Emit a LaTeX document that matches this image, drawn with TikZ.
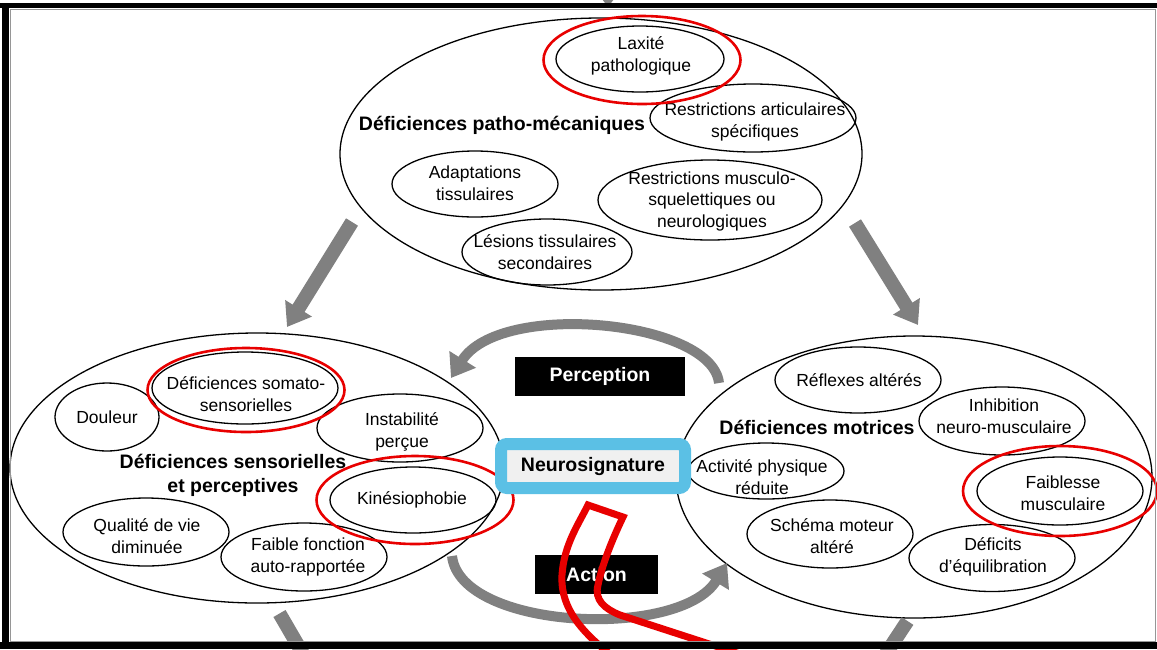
\documentclass[tikz,border=0pt]{standalone}
\usepackage{fontspec}
\setmainfont{Liberation Sans}
\usetikzlibrary{shapes.geometric,arrows.meta}
\definecolor{redc}{RGB}{232,0,0}
\definecolor{arrowgray}{RGB}{128,128,128}
\definecolor{skyb}{RGB}{91,192,229}
\definecolor{boxfill}{RGB}{240,240,240}
\definecolor{framegray}{RGB}{150,150,150}
\newcommand{\subell}[6]{%
  \node[subell, minimum width=#3pt, minimum height=#4pt] (#1) at (#2) {};
  \node[subtxt] (#1t) at (#5) {#6};}
\begin{document}
\begin{tikzpicture}[x=1pt,y=-1pt,
  subell/.style={draw, ellipse, line width=1.3pt, inner sep=0pt},
  subtxt/.style={align=center, inner sep=0pt, font=\fontsize{17.5}{21.5}\selectfont},
  bigell/.style={draw, ellipse, line width=1.3pt, inner sep=0pt},
  hdr/.style={align=center, inner sep=0pt, font=\fontsize{19.5}{24}\selectfont\bfseries},
  redring/.style={draw=redc, ellipse, line width=2.6pt, inner sep=0pt},
  grayarrow/.style={draw=arrowgray, line width=14pt, -{Triangle[width=30pt,length=22pt]}},
  curvarrow/.style={draw=arrowgray, line width=10pt, -{Triangle[width=30pt,length=22pt]}},
  blackbox/.style={fill=black, text=white, inner sep=0pt, font=\fontsize{19.5}{24}\selectfont\bfseries},
  neurobox/.style={draw=skyb, line width=12pt, fill=boxfill, rounded corners=6pt, inner sep=0pt,
    minimum width=184pt, minimum height=44pt, font=\fontsize{19.5}{24}\selectfont\bfseries},
  redstroke/.style={draw=redc, line width=7pt, line join=miter}
]
\useasboundingbox (0,0) rectangle (1157,649);
\clip (0,0) rectangle (1157,649);
\fill[white] (0,0) rectangle (1157,649);

% ---------- big ellipses ----------
\node[bigell, minimum width=522pt, minimum height=272pt] (top) at (601,154) {};
\node[bigell, minimum width=494pt, minimum height=270pt] (left) at (257,468) {};
\node[bigell, minimum width=476pt, minimum height=282pt] (right) at (914,477) {};

% ---------- top group ----------
\node[hdr] (hdrtop) at (502,125) {Déficiences patho-mécaniques};
\subell{lax}{640,59}{168}{66}{641,56}{Laxité\\pathologique}
\subell{restart}{753,118}{206}{68}{755,122}{Restrictions articulaires\\spécifiques}
\subell{adapt}{475,184}{166}{66}{475,183}{Adaptations\\tissulaires}
\subell{restmus}{710,200}{224}{80}{712,201}{Restrictions musculo-\\squelettiques ou\\neurologiques}
\subell{lesions}{547,252}{170}{66}{545,252}{Lésions tissulaires\\secondaires}
\node[redring, minimum width=197pt, minimum height=88pt] (laxred) at (642,60) {};

% ---------- left group ----------
\node[hdr] (hdrleft) at (233,475) {Déficiences sensorielles\\et perceptives};
\subell{douleur}{107,417}{104}{68}{107,417}{Douleur}
\subell{somato}{245,388}{186}{72}{246,394}{Déficiences somato-\\sensorielles}
\subell{instab}{400,428}{166}{68}{402,432}{Instabilité\\perçue}
\subell{kines}{413,500}{166}{66}{412,500}{Kinésiophobie}
\subell{qualite}{146,532}{166}{68}{147,536}{Qualité de vie\\diminuée}
\subell{faible}{304,557}{166}{68}{308,557}{Faible fonction\\auto-rapportée}
\node[redring, minimum width=197pt, minimum height=84pt] (somatored) at (246,390) {};
\node[redring, minimum width=197pt, minimum height=88pt] (kinesred) at (415,500) {};

% ---------- right group ----------
\node[hdr] (hdrright) at (817,427) {Déficiences motrices};
\subell{reflexes}{858,380}{166}{66}{859,380}{Réflexes altérés}
\subell{inhib}{1002,421}{166}{68}{1004,416}{Inhibition\\neuro-musculaire}
\subell{activite}{766,471}{156}{56}{762,477}{Activité physique\\réduite}
\subell{faiblesse}{1060,491}{166}{68}{1063,493}{Faiblesse\\musculaire}
\subell{schema}{830,534}{166}{68}{832,536}{Schéma moteur\\altéré}
\subell{deficits}{992,558}{166}{67}{993,557}{Déficits\\d’équilibration}
\node[redring, minimum width=194pt, minimum height=90pt] (faiblesred) at (1060,491) {};

% ---------- straight arrows ----------
\coordinate (tlS) at (352,222);
\coordinate (tlE) at (287,327);
\coordinate (trS) at (855,223);
\coordinate (trE) at (918,325);
\coordinate (blS) at (279.5,613.5);
\coordinate (blE) at (310,666);
\coordinate (brS) at (907.5,621);
\coordinate (brE) at (874.5,671);
\draw[grayarrow] (tlS) -- (tlE);
\draw[grayarrow] (trS) -- (trE);
\draw[draw=arrowgray, line width=14pt] (blS) -- (blE);
\draw[draw=arrowgray, line width=14pt] (brS) -- (brE);
\coordinate (topA) at (602,-1);
\coordinate (topB) at (614,-1);
\coordinate (topC) at (608,7);
\fill[arrowgray] (topA) -- (topB) -- (topC) -- cycle;

% ---------- curved arrows ----------
\coordinate (percS) at (719,383);
\coordinate (percE) at (451,378);
\coordinate (actS) at (452,556);
\coordinate (actE) at (727,563);
\draw[curvarrow] (percS) .. controls (712,320) and (500,300) .. (percE);
\draw[curvarrow] (actS) .. controls (460,630) and (680,640) .. (actE);

% ---------- central boxes ----------
\node[blackbox, minimum width=170pt, minimum height=39pt] (perception) at (600,376.5) {Perception};
\node[blackbox, minimum width=123pt, minimum height=39pt] (action) at (596.5,574.5) {Action};
\node[neurobox] (neuro) at (593,466) {Neurosignature};

% ---------- red hand-drawn stroke ----------
\coordinate (rA) at (615,658);
\coordinate (rB) at (562,575);
\coordinate (rC) at (588,505);
\coordinate (rD) at (623,517);
\coordinate (rE) at (598,585);
\coordinate (rF) at (620,615);
\coordinate (rG) at (740,654);
\draw[redstroke] (rA) .. controls (585,635) and (560,610) .. (rB)
  .. controls (564,545) and (578,525) .. (rC) -- (rD)
  .. controls (612,540) and (602,565) .. (rE)
  .. controls (594,600) and (605,609) .. (rF) -- (rG);

% ---------- frame ----------
\draw[framegray, line width=1pt] (10,9.5) rectangle (1155,641);
\fill[black] (0,3) rectangle (1157,8);
\fill[black] (2,3) rectangle (9,649);
\fill[black] (0,642) rectangle (1157,649);
\end{tikzpicture}
\end{document}
